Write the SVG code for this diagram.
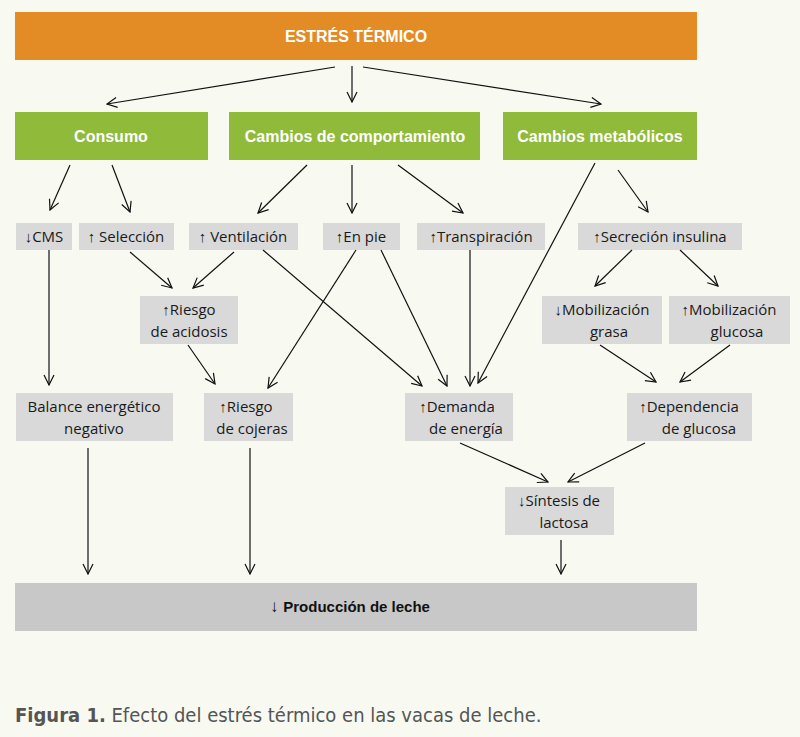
<svg xmlns="http://www.w3.org/2000/svg" width="800" height="737" viewBox="0 0 800 737">
<style>
.g{fill:#d9d9d9}
.t{font-family:"Open Sans","Liberation Sans",sans-serif;font-size:15px;fill:#1a1a1a;text-anchor:middle}
.w{font-family:"Liberation Sans",sans-serif;font-size:16px;font-weight:bold;fill:#fff;text-anchor:middle}
.c line{stroke:#111;stroke-width:1.2;marker-end:url(#a)}
</style>
<defs><marker id="a" viewBox="0 0 12 12" refX="11" refY="6" markerWidth="12" markerHeight="12" markerUnits="userSpaceOnUse" orient="auto"><path d="M1,1 L11,6 L1,11" fill="none" stroke="#111" stroke-width="1.2"/></marker></defs>
<rect width="800" height="737" fill="#f8faf2"/>
<g id="estres"><rect x="15" y="12" width="682" height="48" fill="#e38b25"/><text class="w" x="356" y="42">ESTRÉS TÉRMICO</text></g>
<g id="consumo"><rect x="15" y="112" width="193" height="48" fill="#8fba3a"/><text class="w" x="111" y="142">Consumo</text></g>
<g id="comport"><rect x="229" y="112" width="251" height="48" fill="#8fba3a"/><text class="w" x="355" y="142">Cambios de comportamiento</text></g>
<g id="metab"><rect x="503" y="112" width="194" height="48" fill="#8fba3a"/><text class="w" x="600" y="142">Cambios metabólicos</text></g>
<g id="cms"><rect class="g" x="16" y="223" width="56" height="27"/><text class="t" x="44" y="242">↓CMS</text></g>
<g id="seleccion"><rect class="g" x="79" y="223" width="95" height="27"/><text class="t" x="126" y="242">↑ Selección</text></g>
<g id="ventilacion"><rect class="g" x="189" y="223" width="109" height="27"/><text class="t" x="243" y="242">↑ Ventilación</text></g>
<g id="enpie"><rect class="g" x="323" y="223" width="77" height="27"/><text class="t" x="361" y="242">↑En pie</text></g>
<g id="transp"><rect class="g" x="417" y="223" width="128" height="27"/><text class="t" x="481" y="242">↑Transpiración</text></g>
<g id="secrecion"><rect class="g" x="578" y="223" width="164" height="27"/><text class="t" x="660" y="242">↑Secreción insulina</text></g>
<g id="acidosis"><rect class="g" x="140" y="296" width="98" height="48"/><text class="t" x="189" y="315">↑Riesgo</text><text class="t" x="189" y="337">de acidosis</text></g>
<g id="grasa"><rect class="g" x="542" y="296" width="120" height="48"/><text class="t" x="602" y="315">↓Mobilización</text><text class="t" x="609" y="337">grasa</text></g>
<g id="glucosa"><rect class="g" x="669" y="296" width="121" height="48"/><text class="t" x="729" y="315">↑Mobilización</text><text class="t" x="737" y="337">glucosa</text></g>
<g id="balance"><rect class="g" x="16" y="393" width="157" height="48"/><text class="t" x="94" y="412">Balance energético</text><text class="t" x="94" y="434">negativo</text></g>
<g id="cojeras"><rect class="g" x="204" y="393" width="89" height="48"/><text class="t" x="246" y="412">↑Riesgo</text><text class="t" x="252" y="434">de cojeras</text></g>
<g id="demanda"><rect class="g" x="405" y="393" width="108" height="48"/><text class="t" x="457" y="412">↑Demanda</text><text class="t" x="466" y="434">de energía</text></g>
<g id="dependencia"><rect class="g" x="627" y="393" width="125" height="48"/><text class="t" x="689" y="412">↑Dependencia</text><text class="t" x="699" y="434">de glucosa</text></g>
<g id="sintesis"><rect class="g" x="505" y="487" width="109" height="48"/><text class="t" x="559" y="506">↓Síntesis de</text><text class="t" x="564" y="528">lactosa</text></g>
<g id="produccion"><rect x="15" y="583" width="682" height="48" fill="#c8c8c8"/><text x="350" y="612" font-family="Liberation Sans,sans-serif" font-size="15" font-weight="bold" fill="#111" text-anchor="middle"><tspan font-weight="normal" font-size="17">↓ </tspan>Producción de leche</text></g>
<g class="c">
<line x1="335" y1="67" x2="107" y2="104"/><line x1="352" y1="66" x2="352" y2="102"/><line x1="363" y1="67" x2="601" y2="104"/>
<line x1="70" y1="165" x2="50" y2="210"/><line x1="112" y1="165" x2="130" y2="212"/>
<line x1="307" y1="165" x2="258" y2="213"/><line x1="352" y1="165" x2="352" y2="213"/><line x1="398" y1="165" x2="463" y2="213"/>
<line x1="595" y1="163" x2="478" y2="383"/><line x1="618" y1="170" x2="648" y2="212"/>
<line x1="49" y1="250" x2="49" y2="385"/>
<line x1="130" y1="252" x2="172" y2="288"/><line x1="234" y1="252" x2="193" y2="288"/>
<line x1="263" y1="250" x2="422" y2="386"/>
<line x1="356" y1="250" x2="268" y2="388"/><line x1="381" y1="250" x2="447" y2="386"/>
<line x1="470" y1="250" x2="470" y2="386"/>
<line x1="632" y1="250" x2="595" y2="286"/><line x1="680" y1="250" x2="718" y2="286"/>
<line x1="188" y1="345" x2="215" y2="384"/>
<line x1="600" y1="345" x2="656" y2="382"/><line x1="730" y1="345" x2="680" y2="382"/>
<line x1="460" y1="443" x2="548" y2="482"/><line x1="645" y1="443" x2="568" y2="482"/>
<line x1="88" y1="448" x2="88" y2="574"/><line x1="250" y1="448" x2="250" y2="574"/><line x1="561" y1="540" x2="561" y2="574"/>
</g>
<text x="15" y="722" font-family="DejaVu Sans Condensed,Liberation Sans,sans-serif" font-stretch="condensed" font-size="20" fill="#555"><tspan font-weight="bold">Figura 1.</tspan> Efecto del estrés térmico en las vacas de leche.</text>
</svg>
